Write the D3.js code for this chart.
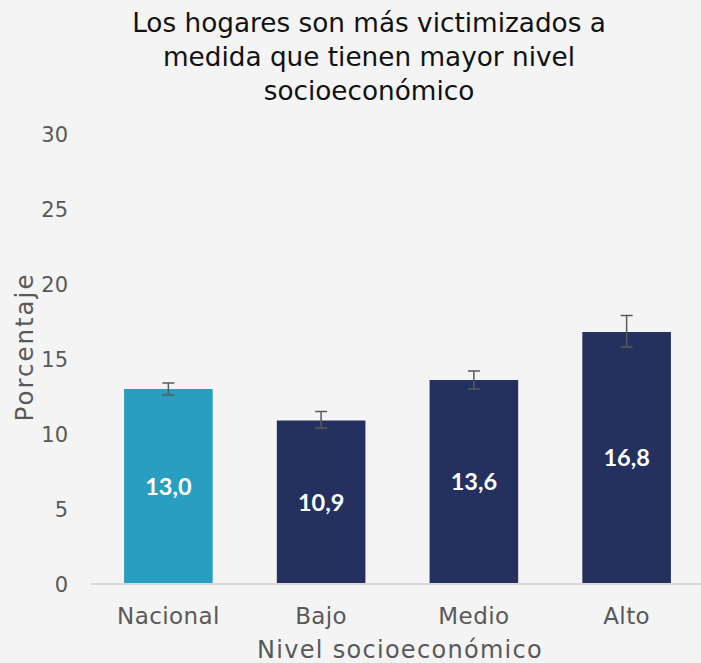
<!DOCTYPE html>
<html><head><meta charset="utf-8">
<script src="https://cdn.jsdelivr.net/npm/d3@7"></script>
<style>
html,body{margin:0;padding:0;background:#f4f4f4;}
svg{display:block;}
</style></head>
<body>
<script>
const categories = ["Nacional", "Bajo", "Medio", "Alto"];
const values = [13.0, 10.9, 13.6, 16.8];
const errLow = [12.6, 10.4, 13.0, 15.8];
const errHigh = [13.4, 11.5, 14.2, 17.9];
const yTicks = [0, 5, 10, 15, 20, 25, 30];
const titleLines = ["Los hogares son más victimizados a", "medida que tienen mayor nivel", "socioeconómico"];
const xTitle = "Nivel socioeconómico";
const yTitle = "Porcentaje";
const barColors = ["#299ec0", "#24305e", "#24305e", "#24305e"];

const W = 701, H = 663;
const font = "'DejaVu Sans', sans-serif";
const svg = d3.select("body").append("svg").attr("width", W).attr("height", H);
svg.append("rect").attr("width", W).attr("height", H).attr("fill", "#f4f4f4");

const x = d3.scaleBand().domain(categories).range([92, 703]).paddingInner(0.42).paddingOuter(0.21);
const y = d3.scaleLinear().domain([0, 30]).range([584, 134]);

// title
svg.append("g").selectAll("text").data(titleLines).join("text")
  .attr("x", 369).attr("y", (d, i) => 32 + i * 34)
  .attr("text-anchor", "middle").attr("font-family", font).attr("font-size", 26.3)
  .attr("fill", "#111111").text(d => d);

// y axis
const yAxis = d3.axisLeft(y).tickValues(yTicks).tickSize(0).tickPadding(0);
const gy = svg.append("g").attr("transform", "translate(68,0)").call(yAxis);
gy.select(".domain").remove();
gy.selectAll("text").attr("font-family", font).attr("font-size", 21).attr("fill", "#595959").attr("dy", "0.36em");

// bars
const rows = categories.map((c, i) => ({c, v: values[i], lo: errLow[i], hi: errHigh[i], col: barColors[i]}));
svg.append("g").selectAll("rect").data(rows).join("rect")
  .attr("x", d => x(d.c)).attr("width", x.bandwidth())
  .attr("y", d => y(d.v)).attr("height", d => y(0) - y(d.v))
  .attr("fill", d => d.col);

// x axis
const xAxis = d3.axisBottom(x).tickSize(0).tickPadding(0);
const gx = svg.append("g").attr("transform", `translate(0,${y(0)})`).call(xAxis);
gx.select(".domain").attr("d", `M91,0H701`).attr("stroke", "#d9d9d9").attr("stroke-width", 2);
gx.selectAll("text").attr("font-family", font).attr("font-size", 23).attr("fill", "#595959")
  .attr("dy", 0).attr("y", 40).attr("letter-spacing", 0.4);

// error bars
const eg = svg.append("g").attr("stroke", "#5a5a5a").attr("stroke-width", 1.5);
rows.forEach(d => {
  const cx = x(d.c) + x.bandwidth() / 2;
  eg.append("line").attr("x1", cx).attr("x2", cx).attr("y1", y(d.hi)).attr("y2", y(d.lo));
  eg.append("line").attr("x1", cx - 6).attr("x2", cx + 6).attr("y1", y(d.hi)).attr("y2", y(d.hi));
  eg.append("line").attr("x1", cx - 6).attr("x2", cx + 6).attr("y1", y(d.lo)).attr("y2", y(d.lo));
});

// value labels
svg.append("g").selectAll("text").data(rows).join("text")
  .attr("x", d => x(d.c) + x.bandwidth() / 2)
  .attr("y", d => (y(d.v) + y(0)) / 2)
  .attr("dy", "0.36em").attr("text-anchor", "middle")
  .attr("font-family", "Lato, sans-serif").attr("font-weight", "bold").attr("font-size", 23.5)
  .attr("fill", "#ffffff").text(d => d3.format(".1f")(d.v).replace(".", ","));

// axis titles
svg.append("text").attr("x", 400).attr("y", 658).attr("text-anchor", "middle")
  .attr("font-family", font).attr("font-size", 24).attr("letter-spacing", 1.3).attr("fill", "#595959").text(xTitle);
svg.append("text").attr("transform", "translate(33,347) rotate(-90)").attr("text-anchor", "middle")
  .attr("font-family", font).attr("font-size", 24.5).attr("letter-spacing", 2).attr("fill", "#595959").text(yTitle);
</script>
</body></html>
